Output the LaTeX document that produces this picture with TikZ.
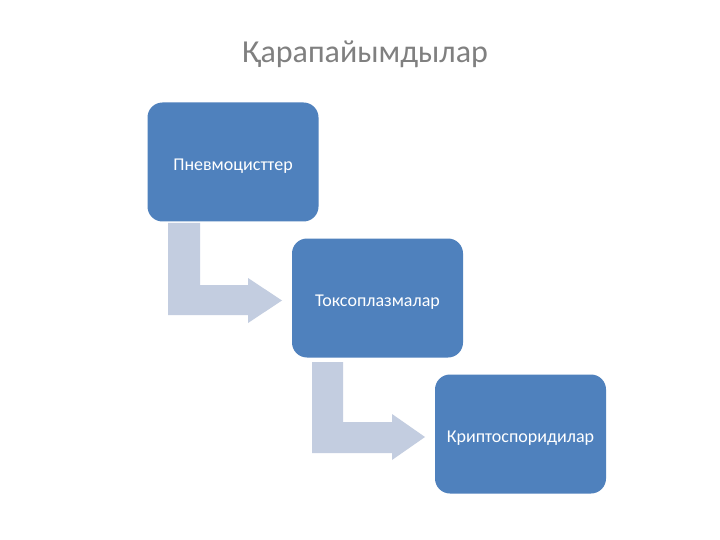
\documentclass[tikz,border=0pt]{standalone}
\usepackage{fontspec}
\setmainfont{Carlito}
\definecolor{boxblue}{HTML}{4F81BD}
\definecolor{arrowgray}{HTML}{C3CDE0}
\definecolor{titlegray}{HTML}{808080}
\newcommand{\boxtext}[1]{\raisebox{-8.5pt}[0pt][0pt]{#1}}
\begin{document}
\begin{tikzpicture}[x=1pt,y=-1pt,
  stepbox/.style={draw=none,fill=boxblue,rounded corners=15pt,minimum width=171pt,minimum height=119pt,
    text=white,font=\fontsize{18}{21}\selectfont,inner sep=0pt},
  bendarrow/.style={fill=arrowgray,draw=none}]
\useasboundingbox (0,0) rectangle (720,540);
\fill[white] (0,0) rectangle (720,540);
\node[text=titlegray,font=\fontsize{32}{36}\selectfont,anchor=base] (title) at (365,63) {Қарапайымдылар};
\fill[bendarrow] (168,223) -- (200,223) -- (200,285) -- (248,285) -- (248,278) -- (282,300.5) -- (248,323) -- (248,315) -- (168,315) -- cycle;
\fill[bendarrow] (312,362) -- (343,362) -- (343,422) -- (392,422) -- (392,414) -- (425,437) -- (392,460) -- (392,453) -- (312,453) -- cycle;
\node[stepbox] (b1) at (233,162) {\boxtext{Пневмоцисттер}};
\node[stepbox] (b2) at (377.5,298) {\boxtext{Токсоплазмалар}};
\node[stepbox] (b3) at (520.5,434) {\boxtext{Криптоспоридилар}};
\end{tikzpicture}
\end{document}
